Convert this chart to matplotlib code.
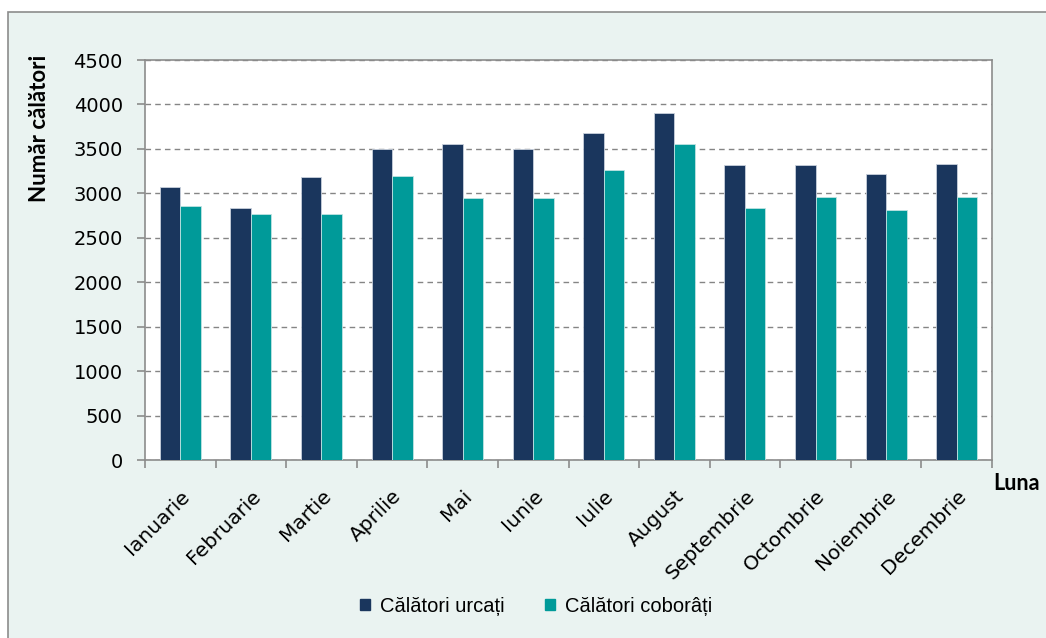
import matplotlib
matplotlib.use("Agg")
import matplotlib.pyplot as plt
from matplotlib.patches import Rectangle
from matplotlib.transforms import ScaledTranslation
import numpy as np

months = ["Ianuarie", "Februarie", "Martie", "Aprilie", "Mai", "Iunie",
          "Iulie", "August", "Septembrie", "Octombrie", "Noiembrie", "Decembrie"]
urcati = [3070, 2840, 3185, 3500, 3560, 3500, 3675, 3900, 3315, 3315, 3215, 3330]
coborati = [2860, 2765, 2765, 3200, 2945, 2945, 3265, 3560, 2830, 2955, 2815, 2955]
yticks = [0, 500, 1000, 1500, 2000, 2500, 3000, 3500, 4000, 4500]

navy = "#1A365D"
teal = "#009A99"
bg = "#EAF3F1"
W, H = 1046, 638

fig = plt.figure(figsize=(W / 100, H / 100), dpi=100, facecolor="white")

# framed chart area
fig.patches.append(Rectangle((8 / W, -0.05), 1.1, 1 - 12 / H + 0.05,
                             transform=fig.transFigure, facecolor=bg,
                             edgecolor="#8C8C8C", linewidth=1.2, zorder=-10))

ax = fig.add_axes([145 / W, 1 - 460 / H, (992 - 145) / W, 400 / H])
ax.set_zorder(1)
ax.set_facecolor("white")

x = np.arange(len(months))
w = 0.29
ax.bar(x - w / 2, urcati, w, color=navy, edgecolor="#C8D0DC", linewidth=0.6, zorder=3)
ax.bar(x + w / 2, coborati, w, color=teal, edgecolor="#BFE3E2", linewidth=0.6, zorder=3)

ax.set_xlim(-0.5, len(months) - 0.5)
ax.set_ylim(0, 4500)
ax.set_yticks(yticks)
ax.set_yticklabels([str(v) for v in yticks], fontsize=14, family="DejaVu Sans")
ax.yaxis.grid(True, linestyle=(0, (4, 3)), color="#858585", linewidth=1.0, zorder=1)

ax.set_xticks(np.arange(len(months) + 1) - 0.5)
ax.set_xticklabels([])
ax.set_xticks(x, minor=True)
ax.set_xticklabels(months, minor=True, rotation=45, ha="right",
                   rotation_mode="anchor", fontsize=14.5, family="DejaVu Sans")
shift = ScaledTranslation(-8 / 100, 0, fig.dpi_scale_trans)
for lbl in ax.get_xticklabels(minor=True):
    lbl.set_transform(lbl.get_transform() + shift)
ax.tick_params(axis="x", which="minor", length=0, pad=19)
ax.tick_params(axis="x", which="major", length=5.5, color="#8C8C8C", width=1.2)
ax.tick_params(axis="y", length=6, color="#8C8C8C", width=1.2, pad=10)

for s in ax.spines.values():
    s.set_color("#8C8C8C")
    s.set_linewidth(1.2)

fig.text(40 / W, 1 - 55 / H, "Număr călători", rotation=90, fontsize=16,
         fontweight="bold", family="Lato", ha="center", va="top")
fig.text(993 / W, 1 - 483 / H, "Luna", fontsize=15.5, fontweight="bold",
         family="Lato", ha="left", va="center")

handles = [Rectangle((0, 0), 1, 1, color=navy), Rectangle((0, 0), 1, 1, color=teal)]
fig.legend(handles, ["Călători urcați", "Călători coborâți"], loc="center",
           bbox_to_anchor=(536 / W, 1 - 606 / H), ncol=2, frameon=False,
           prop={"family": "Liberation Sans", "size": 14.5},
           handlelength=0.5, handleheight=0.5, handletextpad=0.5, columnspacing=2.0)

fig.savefig("out.png", dpi=100, facecolor="white")
